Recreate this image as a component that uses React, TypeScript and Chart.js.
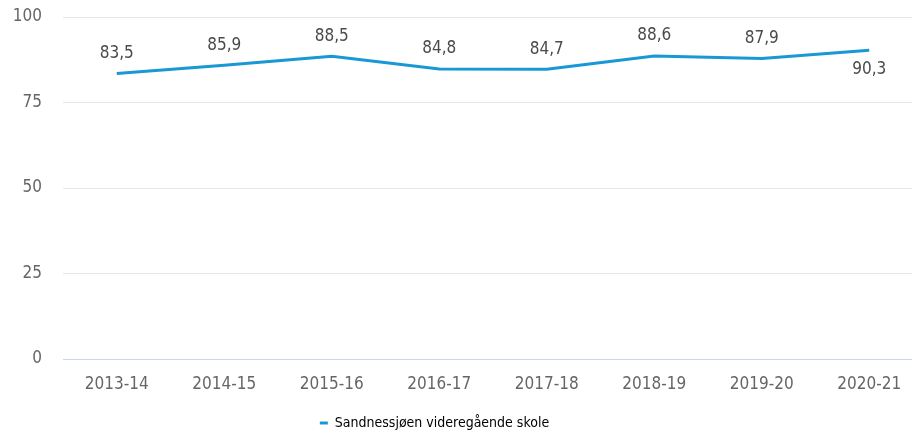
import React, { useEffect, useRef } from "react";
import { Chart, registerables } from "chart.js";

Chart.register(...registerables);

const categories = ["2013-14", "2014-15", "2015-16", "2016-17", "2017-18", "2018-19", "2019-20", "2020-21"];
const values = [83.5, 85.9, 88.5, 84.8, 84.7, 88.6, 87.9, 90.3];
const seriesName = "Sandnessjøen videregående skole";
const yTicks = [0, 25, 50, 75, 100];

const NUM_FONT = '"DejaVu Sans Condensed", "Liberation Sans Narrow", sans-serif';
const LEG_FONT = '"DejaVu Sans Condensed", "Liberation Sans Narrow", sans-serif';
const BLUE = "#1998d5";

const dataLabels = {
  id: "dataLabels",
  afterDatasetsDraw(chart: any) {
    const ctx = chart.ctx;
    const meta = chart.getDatasetMeta(0);
    ctx.save();
    ctx.font = `17px ${NUM_FONT}`;
    ctx.fillStyle = "#4a4a4a";
    ctx.textAlign = "center";
    ctx.textBaseline = "middle";
    meta.data.forEach((pt: any, i: number) => {
      const v = values[i];
      const txt = v.toFixed(1).replace(".", ",");
      const below = i === values.length - 1;
      ctx.fillText(txt, pt.x, below ? pt.y + 19 : pt.y - 20);
    });
    ctx.restore();
  },
};

const legendShift = {
  id: "legendShift",
  afterLayout(chart: any) {
    const l = chart.legend;
    if (l) {
      l.left -= 27;
      l.right -= 27;
    }
  },
};

export default function App() {
  const ref = useRef<HTMLCanvasElement>(null);
  useEffect(() => {
    if (!ref.current) return;
    const chart = new Chart(ref.current, {
      type: "line",
      data: {
        labels: categories,
        datasets: [
          {
            label: seriesName,
            data: values,
            borderColor: BLUE,
            backgroundColor: BLUE,
            borderWidth: 3,
            pointRadius: 0,
            pointHoverRadius: 0,
            tension: 0,
          },
        ],
      },
      options: {
        animation: false,
        responsive: true,
        maintainAspectRatio: false,
        layout: { padding: { top: 17, right: 0, left: 0, bottom: -5 } },
        plugins: {
          tooltip: { enabled: false },
          legend: {
            display: true,
            position: "bottom",
            labels: {
              boxWidth: 8,
              boxHeight: 3,
              padding: 2,
              color: "#555",
              font: { family: LEG_FONT, size: 14 },
              generateLabels: () => [
                {
                  text: seriesName,
                  fillStyle: BLUE,
                  strokeStyle: BLUE,
                  lineWidth: 0,
                  hidden: false,
                  datasetIndex: 0,
                },
              ],
            },
          },
        },
        scales: {
          x: {
            offset: true,
            grid: { display: false, drawTicks: false },
            border: { display: false },
            ticks: {
              color: "#666",
              font: { family: NUM_FONT, size: 17 },
              padding: 15,
              maxRotation: 0,
              autoSkip: false,
            },
            afterFit(scale: any) {
              scale.height = 55;
            },
          },
          y: {
            min: 0,
            max: 100,
            afterBuildTicks(scale: any) {
              scale.ticks = yTicks.map((v) => ({ value: v }));
            },
            grid: {
              drawTicks: false,
              color: (c: any) => (c.tick && c.tick.value === 0 ? "#ccd6eb" : "#e6e6e6"),
              lineWidth: 1,
            },
            border: { display: false },
            ticks: {
              color: "#666",
              font: { family: NUM_FONT, size: 17 },
              padding: 21,
            },
            afterFit(scale: any) {
              scale.width = 63;
              scale.paddingTop = 0;
              scale.paddingBottom = 0;
            },
          },
        },
      },
      plugins: [dataLabels, legendShift],
    });
    return () => chart.destroy();
  }, []);

  return (
    <div style={{ position: "fixed", left: 0, top: 0, width: 912, height: 435, overflow: "hidden", background: "#fff" }}>
      <div style={{ position: "relative", width: 923, height: 435 }}>
        <canvas ref={ref} />
      </div>
    </div>
  );
}
